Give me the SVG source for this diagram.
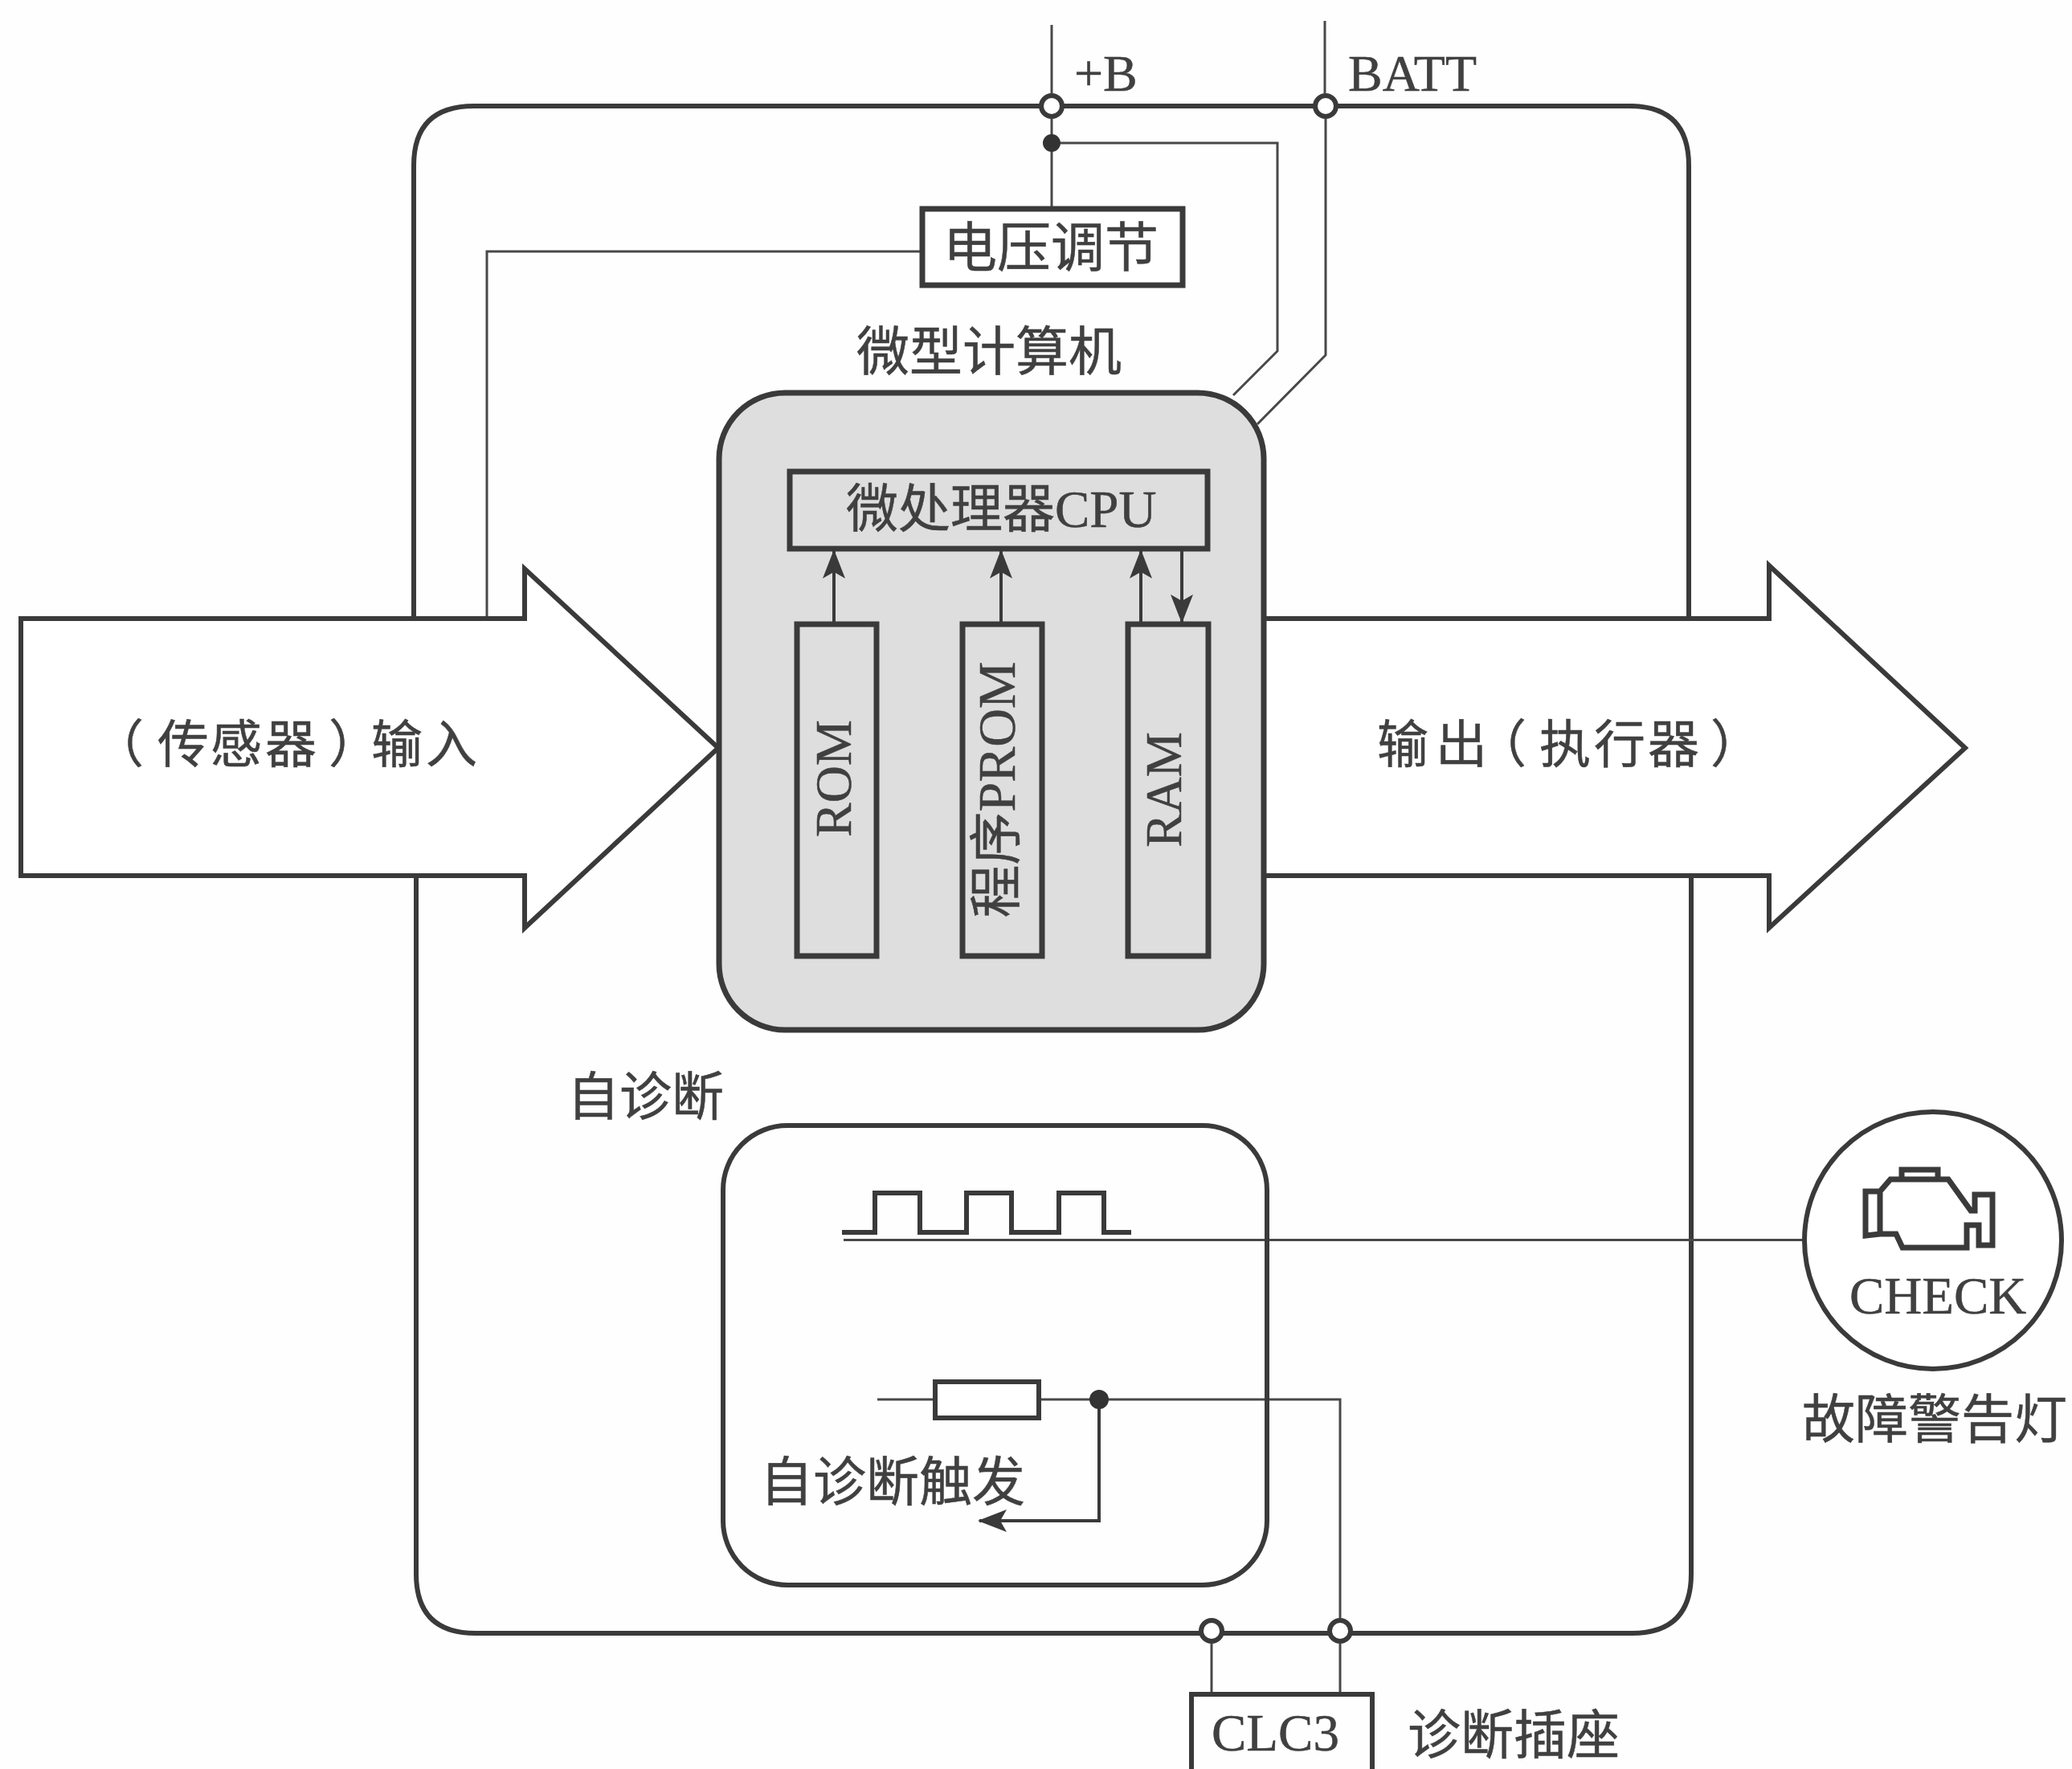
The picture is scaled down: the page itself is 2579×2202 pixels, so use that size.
<svg xmlns="http://www.w3.org/2000/svg" width="2579" height="2202" viewBox="0 0 2579 2202">
<defs>
<marker id="arr" viewBox="0 0 36 28" refX="34" refY="14" markerWidth="36" markerHeight="28" markerUnits="userSpaceOnUse" orient="auto"><path d="M36 14L0 0L8 14L0 28Z" fill="#3a3a3a"/></marker>
</defs>
<style>
.t{font-family:"Liberation Serif","Noto Sans CJK SC",serif;fill:#404040;stroke:#404040;stroke-width:.5;font-size:65px}
.thin{fill:none;stroke:#484848;stroke-width:3}
.bus{fill:none;stroke:#3a3a3a;stroke-width:4}
.thick{fill:none;stroke:#3a3a3a;stroke-width:6}
.box{fill:none;stroke:#3a3a3a;stroke-width:7}
.pin{fill:#fff;stroke:#3a3a3a;stroke-width:6}
.dot{fill:#333}
</style>
<rect width="2579" height="2202" fill="#fefefe"/>
<g id="ecu-frame"><path class="thick" d="M515 1000V206Q515 132 590 132H2028Q2102 132 2102 206V1000"/><path class="thick" d="M518 1000V1959Q518 2033 592 2033H2031Q2105 2033 2105 1959V1000"/></g>
<g id="connectors">
<path class="thin" d="M1309 31V116"/>
<path class="thin" d="M1649 26V116"/>
<path class="thin" d="M1309 148V260"/>
<path class="thin" d="M1309 178H1590V437L1535 492"/>
<path class="thin" d="M1650 148V442L1565 528"/>
<path class="thin" d="M1148 313H606V770"/>
<path class="thin" d="M1050 1543.500H2245"/>
<path class="thin" d="M1092 1742H1164M1293 1742H1668V2014"/>
<path class="bus" d="M1368 1742V1893H1219" marker-end="url(#arr)"/>
<path class="thin" d="M1508 2046V2109M1668 2046V2109"/>
</g>
<g id="input-arrow"><path d="M26 770H653V708L894 931L653 1155V1090H26Z" fill="#fff" stroke="#3a3a3a" stroke-width="6"/><text class="t" x="115 196 262 330 409 462 530" y="949" style="font-size:64px">（传感器）输入</text></g>
<g id="output-arrow"><path d="M1575 770H2202V704L2446 931L2202 1155V1090H1575" fill="#fff" stroke="#3a3a3a" stroke-width="6"/><text class="t" x="1714 1787 1836 1916 1984 2051 2129" y="949" style="font-size:64px">输出（执行器）</text></g>
<g id="microcomputer">
<rect x="895" y="489" width="678" height="793" rx="82" fill="#dedede" stroke="#3a3a3a" stroke-width="7"/>
<text class="t" x="1066" y="461" style="font-size:66px">微型计算机</text>
</g>
<g id="cpu"><rect class="box" x="983" y="587" width="520" height="96"/><text class="t" x="1053" y="656">微处理器CPU</text></g>
<g id="rom"><rect class="box" x="992" y="777" width="99" height="413"/><text class="t" transform="translate(1059 969) rotate(-90)" text-anchor="middle" style="font-size:64px">ROM</text></g>
<g id="prom"><rect class="box" x="1198" y="777" width="99" height="413"/><text class="t" transform="translate(1263 983) rotate(-90)" text-anchor="middle" style="font-size:66px">程序PROM</text></g>
<g id="ram"><rect class="box" x="1404" y="777" width="100" height="413"/><text class="t" transform="translate(1470 983) rotate(-90)" text-anchor="middle" style="font-size:63px">RAM</text></g>
<g id="bus-arrows">
<path class="bus" d="M1038 777V686" marker-end="url(#arr)"/>
<path class="bus" d="M1246 777V686" marker-end="url(#arr)"/>
<path class="bus" d="M1420 777V686" marker-end="url(#arr)"/>
<path class="bus" d="M1471 683V774" marker-end="url(#arr)"/>
</g>
<g id="voltage-regulator"><rect class="box" x="1148" y="260" width="324" height="95" style="fill:#fff"/><text class="t" x="1174" y="332" style="font-size:67px">电压调节</text></g>
<g id="terminal-b"><circle class="pin" cx="1309" cy="132" r="13"/><circle class="dot" cx="1309" cy="178" r="11"/><text class="t" x="1337" y="113" style="font-size:64px">+B</text></g>
<g id="terminal-batt"><circle class="pin" cx="1650" cy="132" r="13"/><text class="t" x="1678" y="113" style="font-size:64px">BATT</text></g>
<g id="self-diagnosis">
<rect x="900" y="1401" width="677" height="572" rx="80" fill="none" stroke="#3a3a3a" stroke-width="6"/>
<text class="t" x="706" y="1388">自诊断</text>
<path class="thick" d="M1048 1534H1089V1485H1145V1534H1203V1485H1259V1534H1318V1485H1374V1534H1408"/>
<rect x="1164" y="1720" width="129" height="45" fill="#fff" stroke="#3a3a3a" stroke-width="6"/>
<circle class="dot" cx="1368" cy="1742" r="12"/>
<text class="t" x="946" y="1868" style="font-size:66px">自诊断触发</text>
</g>
<g id="clc3">
<circle class="pin" cx="1508" cy="2030" r="13"/><circle class="pin" cx="1668" cy="2030" r="13"/>
<rect class="thick" x="1483" y="2109" width="225" height="110"/><text class="t" x="1508" y="2179">CLC3</text>
<text class="t" x="1752" y="2183" style="font-size:66px">诊断插座</text>
</g>
<g id="check-lamp">
<circle cx="2406" cy="1544" r="160" fill="#fff" stroke="#3a3a3a" stroke-width="6"/>
<path fill="none" stroke="#3a3a3a" stroke-width="7" d="M2322 1483H2340L2353 1468H2367V1456H2412V1468H2425L2453 1507H2458V1487H2480V1550H2463V1525H2448V1553H2368L2360 1536H2340L2322 1538ZM2340 1483V1536M2367 1468H2412"/>
<text class="t" x="2302" y="1635">CHECK</text>
<text class="t" x="2243" y="1790" style="font-size:66px">故障警告灯</text>
</g>
</svg>
